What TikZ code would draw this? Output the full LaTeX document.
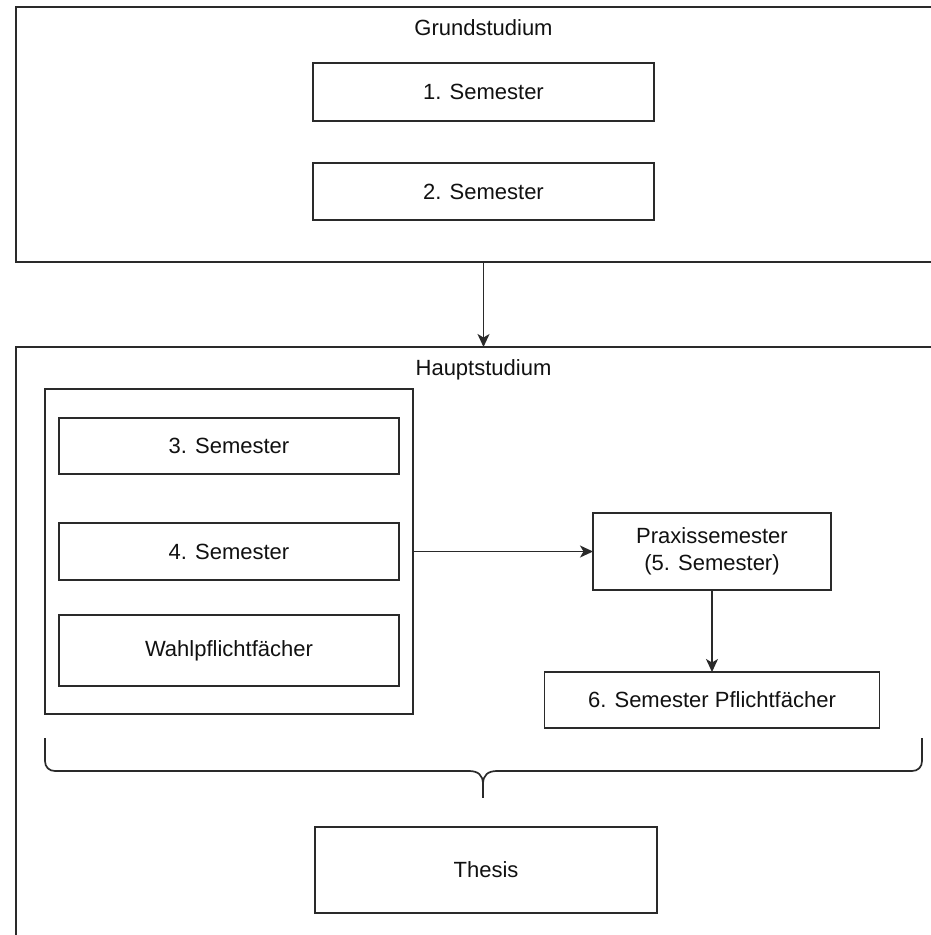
\documentclass[tikz,border=0pt]{standalone}
\usepackage{fontspec}
\setmainfont{Liberation Sans}
\usetikzlibrary{arrows.meta}
\definecolor{ln}{HTML}{2A2A2A}
\definecolor{tx}{HTML}{111111}
\begin{document}
\begin{tikzpicture}[x=1pt,y=-1pt,
  every node/.style={inner sep=0pt, outer sep=0pt, text=tx, font=\fontsize{22}{27}\selectfont},
  boxx/.style={draw=ln, line width=1.4pt, rectangle, align=center},
  lbl/.style={},
  arr/.style={draw=ln, line width=1.4pt, -{Stealth[length=13pt,width=12pt,inset=3.5pt]}},
  brc/.style={draw=ln, line width=1.7pt}]
\useasboundingbox (0,0) rectangle (931,935);
\clip (0,0) rectangle (931,935);
\fill[white] (0,0) rectangle (931,935);
% containers
\node[boxx, minimum width=929pt, minimum height=255pt] (g) at (480.5,134.5) {};
\node[boxx, minimum width=929pt, minimum height=603pt] (h) at (480.5,648.5) {};
\node[lbl] (gl) at (483.5,28) {Grundstudium};
\node[lbl] (hl) at (483.5,370) {Hauptstudium};
% Grundstudium
\node[boxx, minimum width=341pt, minimum height=58pt] (s1) at (483.5,92) {1. Semester};
\node[boxx, minimum width=341pt, minimum height=57pt] (s2) at (483.5,191.5) {2. Semester};
% Hauptstudium inner container
\node[boxx, minimum width=368pt, minimum height=325pt] (inner) at (229,551.5) {};
\node[boxx, minimum width=340pt, minimum height=56pt] (s3) at (229,446) {3. Semester};
\node[boxx, minimum width=340pt, minimum height=57pt] (s4) at (229,551.5) {4. Semester};
\node[boxx, minimum width=340pt, minimum height=71pt] (wp) at (229,650.5) {Wahlpflichtfächer};
\node[boxx, minimum width=238pt, minimum height=77pt] (px) at (712,551.5) {Praxissemester\\(5. Semester)};
\node[boxx, minimum width=335pt, minimum height=56pt] (s6) at (712,700) {6. Semester Pflichtfächer};
\node[boxx, minimum width=342pt, minimum height=86pt] (th) at (486,870) {Thesis};
% connectors
\draw[arr] (gl |- g.south) -- (gl |- h.north);
\draw[arr] (inner.east) -- (px.west);
\draw[arr] (px.south) -- (px |- s6.north);
% brace
\coordinate (bl) at (45,738);
\coordinate (br) at (922,738);
\coordinate (bt) at (483,798);
\draw[brc, line join=round] (bl) -- (45,761) .. controls (45,767) and (49,771) .. (55,771)
  -- (469,771) .. controls (478,771) and (483,775) .. (483,784)
  .. controls (483,775) and (488,771) .. (497,771)
  -- (912,771) .. controls (918,771) and (922,767) .. (922,761) -- (br);
\draw[brc] (483,784) -- (bt);
\end{tikzpicture}
\end{document}
